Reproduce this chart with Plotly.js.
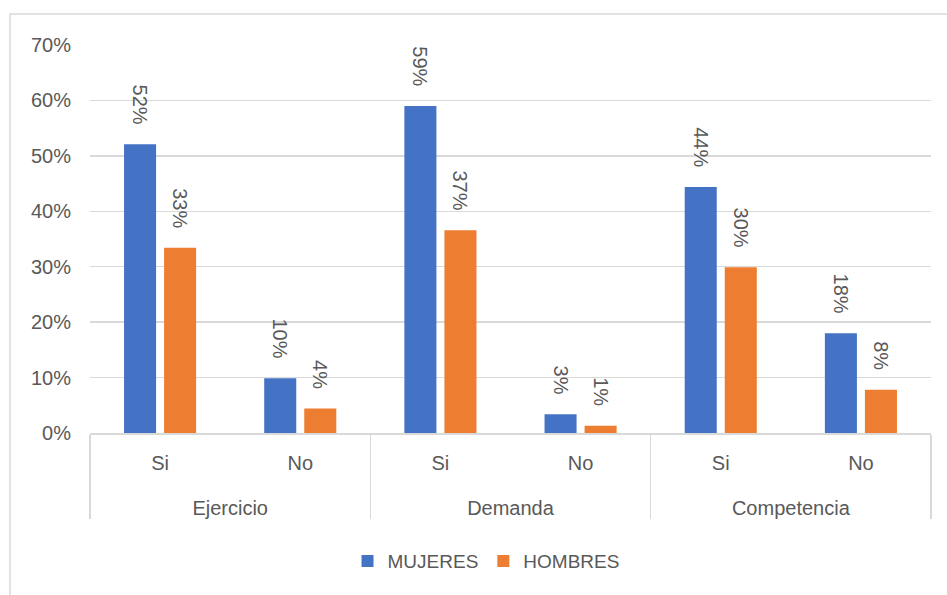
<!DOCTYPE html>
<html>
<head>
<meta charset="utf-8">
<script src="https://cdn.plot.ly/plotly-3.0.1.min.js"></script>
<style>
  html, body { margin: 0; padding: 0; background: #ffffff; }
  #chart { width: 947px; height: 595px; }
</style>
</head>
<body>
<div id="chart"></div>
<script>
const groups = ['Ejercicio', 'Ejercicio', 'Demanda', 'Demanda', 'Competencia', 'Competencia'];
const answers = ['Si', 'No', 'Si', 'No', 'Si', 'No'];
const mujeres = [0.521, 0.099, 0.590, 0.034, 0.444, 0.180];
const hombres = [0.334, 0.044, 0.366, 0.013, 0.299, 0.078];
const seriesNames = ['MUJERES', 'HOMBRES'];
const yTickVals = [0, 0.1, 0.2, 0.3, 0.4, 0.5, 0.6, 0.7];

const textColor = '#595959';
const gridColor = '#d9d9d9';
const fontFamily = '"Liberation Sans", Arial, sans-serif';

// a tall blank second line under each answer label opens space before the group row
const answerLabels = answers.map(a => a + '<br><span style="font-size:48px">\u00a0</span>');

function barTrace(name, values, color) {
  return {
    type: 'bar',
    name: name,
    x: [groups, answerLabels],
    y: values,
    marker: { color: color },
    texttemplate: '%{y:.0%}\u00a0\u00a0\u00a0',
    textposition: 'outside',
    textangle: 90,
    textfont: { family: fontFamily, size: 20, color: textColor },
    constraintext: 'none',
    cliponaxis: false,
    hoverinfo: 'skip'
  };
}

const data = [
  barTrace(seriesNames[0], mujeres, '#4472C4'),
  barTrace(seriesNames[1], hombres, '#ED7D31')
];

const layout = {
  width: 947,
  height: 595,
  margin: { l: 90, r: 16, t: 45, b: 162, pad: 0 },
  paper_bgcolor: '#ffffff',
  plot_bgcolor: '#ffffff',
  font: { family: fontFamily, size: 20, color: textColor },
  barmode: 'group',
  bargap: 0.4286,
  bargroupgap: 0.2,
  showlegend: true,
  legend: {
    orientation: 'h',
    x: 0.4709, xanchor: 'center',
    y: -0.33, yanchor: 'middle',
    itemwidth: 30,
    font: { family: fontFamily, size: 19, color: textColor },
    itemclick: false
  },
  xaxis: {
    type: 'multicategory',
    showline: true,
    linecolor: gridColor,
    linewidth: 1.5,
    showgrid: false,
    zeroline: false,
    ticks: '',
    ticklabelstandoff: 11,
    showdividers: true,
    dividercolor: gridColor,
    dividerwidth: 1.5,
    tickfont: { family: fontFamily, size: 20, color: textColor },
    fixedrange: true
  },
  yaxis: {
    range: [0, 0.7],
    tickvals: yTickVals,
    tickformat: '.0%',
    showgrid: true,
    gridcolor: gridColor,
    gridwidth: 1.5,
    zeroline: false,
    showline: false,
    ticks: '',
    ticklabelstandoff: 18,
    tickfont: { family: fontFamily, size: 20, color: textColor },
    fixedrange: true
  },
  shapes: [
    {
      type: 'rect', xref: 'paper', yref: 'paper',
      x0: -0.0951, x1: 1.2, y0: -0.6, y1: 1.0799,
      line: { color: gridColor, width: 1.5 },
      fillcolor: 'rgba(0,0,0,0)',
      layer: 'below'
    }
  ]
};

Plotly.newPlot('chart', data, layout, { displayModeBar: false, staticPlot: true });
</script>
</body>
</html>
